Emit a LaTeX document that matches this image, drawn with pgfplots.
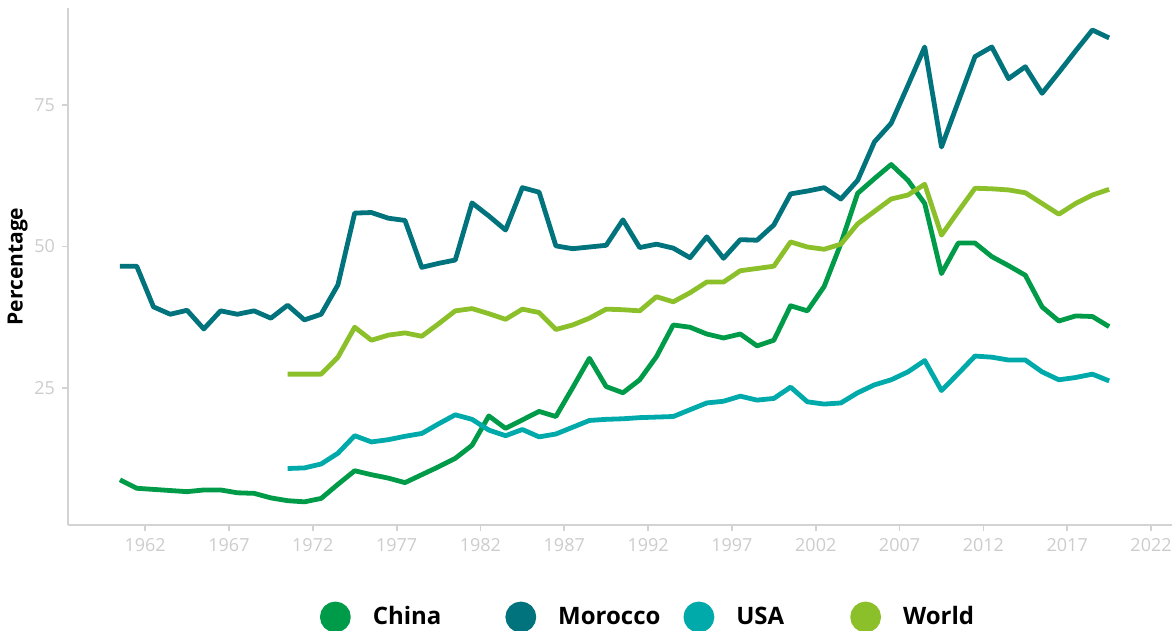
\documentclass[border=0pt]{standalone}
\usepackage{pgfplots}
\pgfplotsset{compat=1.18}
\usepackage{pgfplotstable}
\usepackage{fontspec}
\setmainfont{Open Sans}
\definecolor{cChina}{HTML}{009B48}
\definecolor{cMorocco}{HTML}{00737C}
\definecolor{cUSA}{HTML}{00AAAA}
\definecolor{cWorld}{HTML}{8CC02B}
\definecolor{axgray}{HTML}{D3D3D3}
\definecolor{tickgray}{HTML}{CCCCCC}

\pgfplotstableread{
year val
1960 46.5
1961 46.5
1962 39.3
1963 38.0
1964 38.7
1965 35.4
1966 38.6
1967 38.0
1968 38.6
1969 37.3
1970 39.6
1971 37.0
1972 38.0
1973 43.2
1974 55.9
1975 56.0
1976 55.0
1977 54.6
1978 46.3
1979 47.0
1980 47.6
1981 57.7
1982 55.4
1983 52.9
1984 60.4
1985 59.6
1986 50.1
1987 49.6
1988 49.9
1989 50.2
1990 54.7
1991 49.8
1992 50.4
1993 49.7
1994 48.0
1995 51.7
1996 47.9
1997 51.2
1998 51.1
1999 53.8
2000 59.3
2001 59.8
2002 60.4
2003 58.4
2004 61.7
2005 68.5
2006 71.8
2007 78.5
2008 85.3
2009 67.6
2010 75.6
2011 83.6
2012 85.3
2013 79.7
2014 81.8
2015 77.1
2016 80.8
2017 84.6
2018 88.3
2019 86.9
}\morocco

\pgfplotstableread{
year val
1960 8.7
1961 7.2
1962 7.0
1963 6.8
1964 6.6
1965 6.9
1966 6.9
1967 6.4
1968 6.3
1969 5.5
1970 5.0
1971 4.8
1972 5.4
1973 7.9
1974 10.3
1975 9.6
1976 9.0
1977 8.2
1978 9.6
1979 11.0
1980 12.5
1981 14.8
1982 20.0
1983 17.8
1984 19.3
1985 20.8
1986 19.9
1987 25.0
1988 30.2
1989 25.2
1990 24.1
1991 26.4
1992 30.5
1993 36.1
1994 35.7
1995 34.5
1996 33.8
1997 34.5
1998 32.4
1999 33.4
2000 39.5
2001 38.6
2002 42.9
2003 50.5
2004 59.4
2005 62.0
2006 64.5
2007 61.7
2008 57.6
2009 45.2
2010 50.6
2011 50.6
2012 48.2
2013 46.6
2014 44.9
2015 39.3
2016 36.8
2017 37.7
2018 37.6
2019 35.8
}\china

\pgfplotstableread{
year val
1970 10.7
1971 10.8
1972 11.5
1973 13.4
1974 16.5
1975 15.4
1976 15.8
1977 16.4
1978 16.9
1979 18.6
1980 20.2
1981 19.4
1982 17.5
1983 16.5
1984 17.6
1985 16.3
1986 16.8
1987 18.0
1988 19.2
1989 19.4
1990 19.5
1991 19.7
1992 19.8
1993 19.9
1994 21.1
1995 22.3
1996 22.6
1997 23.5
1998 22.8
1999 23.1
2000 25.1
2001 22.5
2002 22.1
2003 22.3
2004 24.1
2005 25.5
2006 26.4
2007 27.8
2008 29.8
2009 24.5
2010 27.5
2011 30.6
2012 30.4
2013 29.9
2014 29.9
2015 27.8
2016 26.4
2017 26.8
2018 27.4
2019 26.2
}\usa

\pgfplotstableread{
year val
1970 27.4
1971 27.4
1972 27.4
1973 30.4
1974 35.7
1975 33.4
1976 34.3
1977 34.7
1978 34.1
1979 36.3
1980 38.6
1981 39.0
1982 38.1
1983 37.1
1984 38.9
1985 38.3
1986 35.3
1987 36.1
1988 37.3
1989 38.9
1990 38.8
1991 38.6
1992 41.1
1993 40.2
1994 41.8
1995 43.7
1996 43.7
1997 45.7
1998 46.1
1999 46.5
2000 50.8
2001 49.9
2002 49.5
2003 50.4
2004 54.0
2005 56.2
2006 58.4
2007 59.1
2008 61.0
2009 52.0
2010 56.2
2011 60.3
2012 60.2
2013 60.0
2014 59.5
2015 57.6
2016 55.7
2017 57.6
2018 59.1
2019 60.1
}\world

\begin{document}
\begin{tikzpicture}
\begin{axis}[
  at={(0,0)}, anchor=south west,
  scale only axis,
  width=552pt, height=258.5pt,
  xmin=1956.9, xmax=2022.75,
  ymin=0.7, ymax=92.2,
  axis x line*=bottom, axis y line*=left,
  axis line style={axgray, line width=1.1pt, -},
  xtick={1961.5,1966.5,...,2021.5},
  xticklabels={1962,1967,1972,1977,1982,1987,1992,1997,2002,2007,2012,2017,2022},
  ytick={25,50,75},
  tick style={axgray, line width=0.9pt},
  tick align=outside,
  major tick length=3pt,
  ticklabel style={font=\fontsize{9}{10}\selectfont, text=tickgray},
  /pgf/number format/assume math mode=true,
  ylabel={\bfseries Percentage},
  ylabel style={font=\fontsize{10.5}{12}\selectfont, text=black, at={(axis description cs:-0.0455,0.5)}, anchor=center},
  legend style={draw=none, at={(0.5,-46pt)}, xshift=14.5pt, anchor=center, legend columns=4,
    font=\bfseries\fontsize{12}{14}\selectfont,
    /tikz/column 1/.style={column sep=9pt},
    /tikz/column 2/.style={column sep=30pt},
    /tikz/column 3/.style={column sep=9pt},
    /tikz/column 4/.style={column sep=9.5pt},
    /tikz/column 5/.style={column sep=9pt},
    /tikz/column 6/.style={column sep=31pt},
    /tikz/column 7/.style={column sep=9pt},
    inner sep=0pt},
  legend cell align=left,
  legend image code/.code={\fill[#1] (6.5pt,0) circle (6.5pt);},
  clip=false,
]
\addplot[cChina, line width=2.4pt, line join=round] table[x=year,y=val] {\china};
\addlegendentry{China}
\addplot[cMorocco, line width=2.4pt, line join=round] table[x=year,y=val] {\morocco};
\addlegendentry{Morocco}
\addplot[cUSA, line width=2.4pt, line join=round] table[x=year,y=val] {\usa};
\addlegendentry{USA}
\addplot[cWorld, line width=2.4pt, line join=round] table[x=year,y=val] {\world};
\addlegendentry{World}
\end{axis}
\pgfresetboundingbox
\path[use as bounding box] (-34pt,-53pt) rectangle (552pt,262.5pt);
\end{tikzpicture}
\end{document}
